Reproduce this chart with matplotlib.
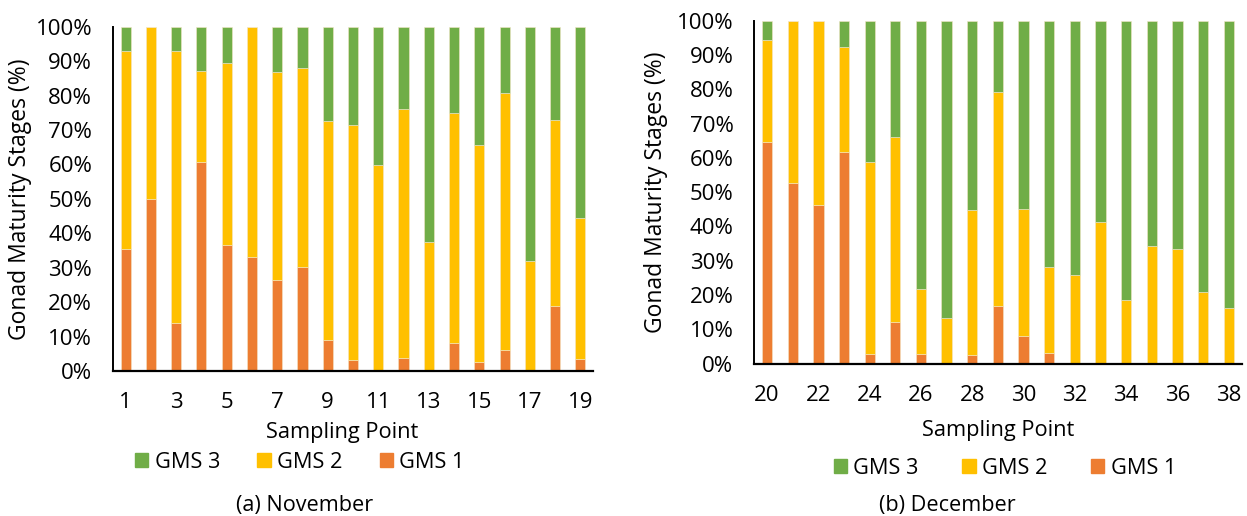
import matplotlib
matplotlib.use("Agg")
import matplotlib.pyplot as plt
from matplotlib.patches import Patch
from matplotlib.ticker import PercentFormatter, MultipleLocator

plt.rcParams['font.family'] = ['Open Sans', 'DejaVu Sans']

# Share of each gonad maturity stage (%) per sampling point
nov_points = list(range(1, 20))
nov_gms1 = [35.5, 50.0, 14.0, 60.8, 36.7, 33.2, 26.5, 30.2, 8.9, 3.3,
            0.0, 3.9, 0.0, 8.2, 2.6, 6.2, 0.0, 18.8, 3.6]
nov_gms2 = [57.4, 50.0, 78.9, 26.2, 52.8, 66.8, 60.2, 57.7, 63.8, 68.1,
            59.9, 72.2, 37.4, 66.8, 63.1, 74.5, 31.9, 54.2, 40.7]
nov_gms3 = [7.1, 0.0, 7.1, 13.0, 10.5, 0.0, 13.3, 12.1, 27.3, 28.6,
            40.1, 23.9, 62.6, 25.0, 34.3, 19.3, 68.1, 27.0, 55.7]

dec_points = list(range(20, 39))
dec_gms1 = [64.7, 52.7, 46.2, 61.6, 2.8, 12.2, 2.9, 0.0, 2.5, 16.7,
            8.2, 3.0, 0.0, 0.0, 0.0, 0.0, 0.0, 0.0, 0.0]
dec_gms2 = [29.6, 47.3, 53.8, 30.8, 56.1, 53.8, 19.0, 13.4, 42.3, 62.6,
            36.8, 25.2, 25.9, 41.3, 18.6, 34.2, 33.4, 20.9, 16.3]
dec_gms3 = [5.7, 0.0, 0.0, 7.6, 41.1, 34.0, 78.1, 86.6, 55.2, 20.7,
            55.0, 71.8, 74.1, 58.7, 81.4, 65.8, 66.6, 79.1, 83.7]

stage_names = ['GMS 1', 'GMS 2', 'GMS 3']
stage_colors = ['#ED7D31', '#FFC000', '#70AD47']

W, H = 1247, 516
fig = plt.figure(figsize=(W / 100, H / 100), dpi=100)


def px_axes(left, top, right, bottom):
    return fig.add_axes([left / W, 1 - bottom / H, (right - left) / W, (bottom - top) / H])


def draw_panel(ax, points, series, xlabel_pos, ylabel_x):
    bottom = [0.0] * len(points)
    for vals, name, color in zip(series, stage_names, stage_colors):
        ax.bar(points, vals, bottom=bottom, width=0.4, color=color,
               edgecolor='#f3e6c8', linewidth=0.4, label=name)
        bottom = [b + v for b, v in zip(bottom, vals)]
    ax.set_xlim(points[0] - 0.5, points[-1] + 0.5)
    ax.set_ylim(0, 100)
    ax.yaxis.set_major_locator(MultipleLocator(10))
    ax.yaxis.set_major_formatter(PercentFormatter(decimals=0))
    ax.set_xticks(points[::2])
    for s in ('top', 'right'):
        ax.spines[s].set_visible(False)
    ax.spines['left'].set_linewidth(1.4)
    ax.spines['bottom'].set_linewidth(1.6)
    ax.tick_params(axis='both', length=0, labelsize=16)
    ax.tick_params(axis='y', pad=15)
    ax.tick_params(axis='x', pad=15)
    ax.set_ylabel('Gonad Maturity Stages (%)', fontsize=16.5)
    ax.yaxis.set_label_coords(ylabel_x, 0.5)
    ax.set_xlabel('Sampling Point', fontsize=15.7)
    ax.xaxis.set_label_coords(*xlabel_pos)


ax1 = px_axes(113, 26.7, 593, 371)
draw_panel(ax1, nov_points, [nov_gms1, nov_gms2, nov_gms3], (0.478, -0.148), -0.169)

ax2 = px_axes(754.3, 20.7, 1241.5, 363.7)
draw_panel(ax2, dec_points, [dec_gms1, dec_gms2, dec_gms3], (0.5, -0.164), -0.177)

handles = [Patch(color=c, label=n) for n, c in zip(stage_names, stage_colors)][::-1]
for cx, cy, colsp in ((300, 462, 1.7), (1005, 468, 2.0)):
    fig.legend(handles=handles, loc='center', bbox_to_anchor=(cx / W, 1 - cy / H),
               ncol=3, frameon=False, fontsize=15.7, handlelength=0.6,
               handleheight=0.6, handletextpad=0.3, columnspacing=colsp)

fig.text(305 / W, 1 - 505 / H, '(a) November', ha='center', va='center', fontsize=15.6)
fig.text(947.5 / W, 1 - 505 / H, '(b) December', ha='center', va='center', fontsize=15.6)

fig.savefig('out.png', dpi=100)
